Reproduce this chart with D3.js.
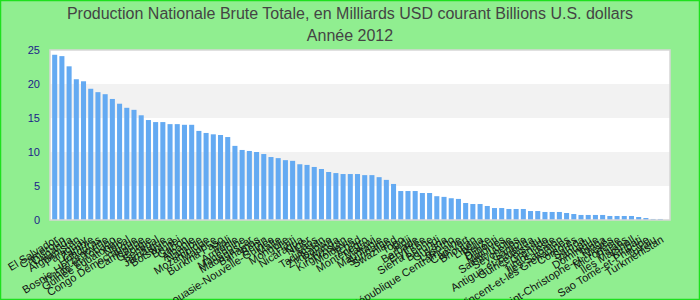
<!DOCTYPE html>
<html>
<head>
<meta charset="utf-8">
<script src="https://cdn.jsdelivr.net/npm/d3@7"></script>
<style>
  body { margin: 0; background: #fff; }
  svg { display: block; font-family: "Liberation Sans", Arial, sans-serif; }
</style>
</head>
<body>
<svg id="mysvg"></svg>
<script>
const w = 700, h = 300;
const margin = {top: 50, right: 30, bottom: 80, left: 50};

const titleLines = ["Production Nationale Brute Totale, en Milliards USD courant Billions U.S. dollars", "Année 2012"];

const countries = [
    "El Salvador", "Cameroun", "Ouganda", "Afghanistan", "Paraguay", "Zambie", "Honduras",
    "Bosnie-Herzégovine", "Trinité-et-Tobago", "Guinée équatoriale", "Népal", "Congo Démocratique",
    "Cambodge", "Géorgie", "Sénégal", "Jamaïque", "Botswana", "Brunei", "Gabon", "Albanie",
    "Namibie", "Mozambique", "Maurice", "Burkina Faso", "Mali", "Arménie", "Macédoine",
    "Madagascar", "Bahamas", "Bénin", "Papouasie-Nouvelle-Guinée", "Malte", "Mongolie", "Haïti",
    "Nicaragua", "Niger", "Laos", "Tadjikistan", "Zimbabwe", "Rwanda", "Kirghizistan", "Moldavie",
    "Tchad", "Monténégro", "Malawi", "Mauritanie", "Suriname", "Swaziland", "Togo", "Fidji",
    "Barbade", "Érythrée", "Sierra Leone", "Burundi", "Guyana", "Lesotho", "République Centrafricaine",
    "Cap-Vert", "Bhoutan", "Libéria", "Belize", "Djibouti", "Maldives", "Sainte-Lucie",
    "Seychelles", "Gambie", "Antigua-et-Barbuda", "Guinée-Bissau", "Grenade", "Timor-Leste",
    "Îles Salomon", "Saint-Vincent-et-les Grenadines", "Comores", "Samoa", "Vanuatu", "Dominique",
    "Tonga", "Saint-Christophe-et-Niévès", "Micronésie", "Palaos", "Îles Marshall", "Kiribati",
    "Sao Tomé-et-Principe", "Tuvalu", "Turkménistan"
];

const values = [
    24.3, 24.1, 22.6, 20.7, 20.4, 19.3, 18.8, 18.5, 17.8, 17.1,
    16.5, 16.2, 15.4, 14.7, 14.4, 14.4, 14.1, 14.1, 14.0, 14.0,
    13.1, 12.8, 12.6, 12.5, 12.2, 10.9, 10.3, 10.15, 10.0, 9.7,
    9.26, 9.1, 8.8, 8.7, 8.2, 8.1, 7.8, 7.5, 7.06, 6.9,
    6.76, 6.76, 6.76, 6.6, 6.6, 6.3, 5.9, 5.3, 4.26, 4.26,
    4.26, 3.97, 3.97, 3.5, 3.4, 3.2, 3.1, 2.5, 2.35, 2.35,
    2.06, 1.76, 1.76, 1.62, 1.62, 1.62, 1.32, 1.32, 1.18, 1.18,
    1.18, 1.03, 0.88, 0.74, 0.74, 0.74, 0.74, 0.59, 0.59, 0.59,
    0.59, 0.44, 0.29, 0.15, 0.15
];

const yTicks = [0, 5, 10, 15, 20, 25];

const svg = d3.select("#mysvg")
    .attr("width", w)
    .attr("height", h);

// page background + bright border
svg.append("rect")
    .attr("x", 0.5).attr("y", 0.5)
    .attr("width", w - 1).attr("height", h - 1)
    .attr("fill", "#90ee90")
    .attr("stroke", "#1ee01e")
    .attr("stroke-width", 1.5);

// titles
svg.selectAll(".title")
    .data(titleLines)
    .enter().append("text")
    .attr("class", "title")
    .attr("x", w / 2)
    .attr("y", (d, i) => 18.5 + i * 22.5)
    .attr("text-anchor", "middle")
    .attr("fill", "#444")
    .style("font-size", "16px")
    .text(d => d);

const plotLeft = margin.left, plotRight = w - margin.right;
const plotTop = margin.top, plotBottom = h - margin.bottom;

const yScale = d3.scaleLinear()
    .domain([0, 25])
    .range([plotBottom, plotTop]);

const xScale = d3.scaleBand()
    .domain(countries)
    .range([plotLeft, plotRight - 5])
    .paddingInner(0.3)
    .paddingOuter(0.3);

// plot area
svg.append("rect")
    .attr("x", plotLeft).attr("y", plotTop)
    .attr("width", plotRight - plotLeft)
    .attr("height", plotBottom - plotTop)
    .attr("fill", "#fff");

// alternate bands
const bands = d3.pairs(yTicks).filter((p, i) => i % 2 === 1);
svg.selectAll(".band")
    .data(bands)
    .enter().append("rect")
    .attr("class", "band")
    .attr("x", plotLeft)
    .attr("y", d => yScale(d[1]))
    .attr("width", plotRight - plotLeft)
    .attr("height", d => yScale(d[0]) - yScale(d[1]))
    .attr("fill", "#f2f2f2");

// bars
svg.selectAll(".bar")
    .data(values)
    .enter().append("rect")
    .attr("class", "bar")
    .attr("x", (d, i) => xScale(countries[i]))
    .attr("y", d => yScale(d))
    .attr("width", xScale.bandwidth())
    .attr("height", d => plotBottom - yScale(d))
    .attr("fill", "#64aaf2");

// plot border
svg.append("rect")
    .attr("x", plotLeft).attr("y", plotTop)
    .attr("width", plotRight - plotLeft)
    .attr("height", plotBottom - plotTop)
    .attr("fill", "none")
    .attr("stroke", "#d6d6d6")
    .attr("stroke-width", 1.5);

// Y axis
const yAxis = svg.append("g")
    .attr("class", "y axis")
    .attr("transform", "translate(" + (plotLeft - 10) + ",0)")
    .call(d3.axisLeft(yScale).tickValues(yTicks).tickSize(0).tickPadding(0));
yAxis.select(".domain").remove();
yAxis.selectAll("text")
    .attr("fill", "#1c1c8a")
    .style("font-size", "11px")
    .style("font-family", "'Liberation Sans', Arial, sans-serif");

// X axis
const xAxis = svg.append("g")
    .attr("class", "x axis")
    .attr("transform", "translate(0," + (plotBottom + 15) + ")")
    .call(d3.axisBottom(xScale).tickSize(0).tickPadding(0));
xAxis.select(".domain").remove();
xAxis.selectAll("text")
    .attr("fill", "#111")
    .style("font-size", "11px")
    .style("font-family", "'Liberation Sans', Arial, sans-serif")
    .attr("text-anchor", "end")
    .attr("transform", "rotate(-32)")
    .attr("dx", "0em")
    .attr("dy", "0.7em")
    .attr("y", 0);
</script>
</body>
</html>
